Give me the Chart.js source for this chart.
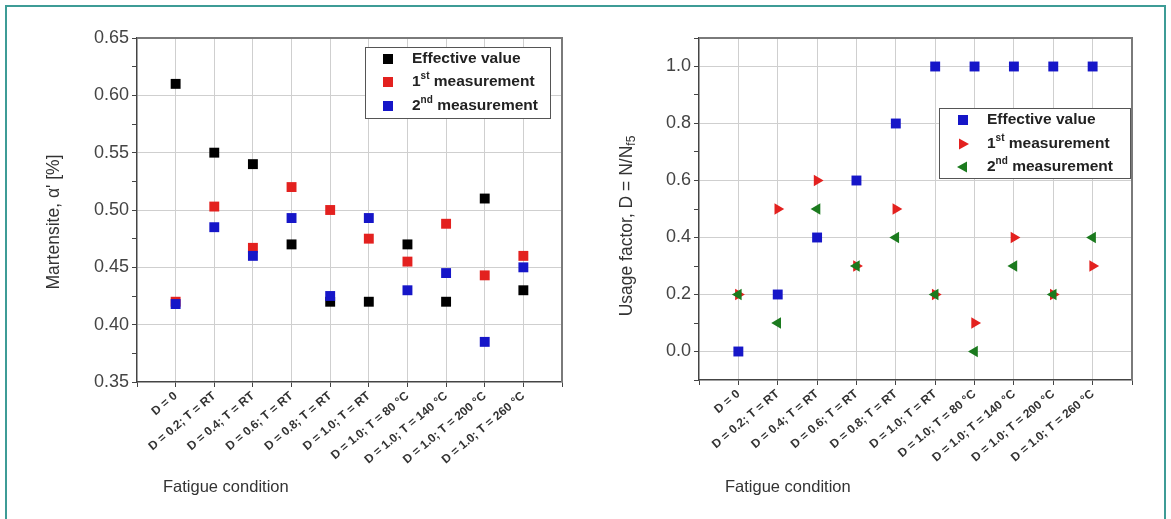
<!DOCTYPE html>
<html>
<head>
<meta charset="utf-8">
<script src="https://cdn.jsdelivr.net/npm/chart.js@4.4.0/dist/chart.umd.min.js"></script>
<style>
  html, body { margin: 0; padding: 0; background: #fff; }
  body { width: 1171px; height: 519px; position: relative; overflow: hidden; }
  .frame { position: absolute; left: 5px; top: 5px; width: 1157px; height: 600px; border: 2px solid #3d9c96; }
  canvas { position: absolute; top: 0; }
  #martensite { left: 0; }
  #usage { left: 585px; }
</style>
</head>
<body>
<div class="frame"></div>
<canvas id="martensite" width="585" height="519"></canvas>
<canvas id="usage" width="586" height="519"></canvas>
<script>
const conditions = [
  'D = 0',
  'D = 0.2; T = RT',
  'D = 0.4; T = RT',
  'D = 0.6; T = RT',
  'D = 0.8; T = RT',
  'D = 1.0; T = RT',
  'D = 1.0; T = 80 °C',
  'D = 1.0; T = 140 °C',
  'D = 1.0; T = 200 °C',
  'D = 1.0; T = 260 °C',
];

// martensite content, %
const martEffective = [0.61, 0.55, 0.54, 0.47, 0.42, 0.42, 0.47, 0.42, 0.51, 0.43];
const martFirst = [0.42, 0.503, 0.467, 0.52, 0.50, 0.475, 0.455, 0.488, 0.443, 0.46];
const martSecond = [0.418, 0.485, 0.46, 0.493, 0.425, 0.493, 0.43, 0.445, 0.385, 0.45];
const martTicks = [0.35, 0.40, 0.45, 0.50, 0.55, 0.60, 0.65];

// usage factor D = N/Nf5
const usageEffective = [0.0, 0.2, 0.4, 0.6, 0.8, 1.0, 1.0, 1.0, 1.0, 1.0];
const usageFirst = [0.2, 0.5, 0.6, 0.3, 0.5, 0.2, 0.1, 0.4, 0.2, 0.3];
const usageSecond = [0.2, 0.1, 0.5, 0.3, 0.4, 0.2, 0.0, 0.3, 0.2, 0.4];
const usageTicks = [0.0, 0.2, 0.4, 0.6, 0.8, 1.0];

const BLACK = '#000000';
const RED = '#e3211f';
const BLUE = '#1616c8';
const GREEN = '#1b7a1e';

const points = values => values.map((v, i) => ({ x: i, y: v }));

const isMajor = (ticks, v) => ticks.some(t => Math.abs(t - v) < 1e-6);

// rich text: list of {text, font, dy}
function richWidth(ctx, parts) {
  let w = 0;
  parts.forEach(p => { ctx.font = p.font; w += ctx.measureText(p.text).width; });
  return w;
}
function drawRich(ctx, parts, x, y) {
  let cx = x;
  parts.forEach(p => {
    ctx.font = p.font;
    ctx.fillText(p.text, cx, y + (p.dy || 0));
    cx += ctx.measureText(p.text).width;
  });
}

function drawMarker(ctx, style, x, y, color) {
  ctx.fillStyle = color;
  ctx.beginPath();
  if (style === 'rect') {
    ctx.rect(x - 5, y - 5, 10, 10);
  } else if (style === 'right') {
    ctx.moveTo(x + 6, y);
    ctx.lineTo(x - 4, y - 5.5);
    ctx.lineTo(x - 4, y + 5.5);
  } else {
    ctx.moveTo(x - 6, y);
    ctx.lineTo(x + 4, y - 5.5);
    ctx.lineTo(x + 4, y + 5.5);
  }
  ctx.closePath();
  ctx.fill();
}

const legendFont = 'bold 15.5px Arial';
const supFont = 'bold 10px Arial';
const legendRows = [
  [{ text: 'Effective value', font: legendFont }],
  [{ text: '1', font: legendFont }, { text: 'st', font: supFont, dy: -6 }, { text: ' measurement', font: legendFont }],
  [{ text: '2', font: legendFont }, { text: 'nd', font: supFont, dy: -6 }, { text: ' measurement', font: legendFont }],
];

// frame, axis titles and legend box
const decor = {
  id: 'decor',
  afterDraw(chart, args, opts) {
    const { ctx, chartArea: a } = chart;
    ctx.save();

    ctx.strokeStyle = '#7a7a7a';
    ctx.lineWidth = 2;
    ctx.beginPath();
    ctx.moveTo(a.left, a.top);
    ctx.lineTo(a.right, a.top);
    ctx.lineTo(a.right, a.bottom);
    ctx.stroke();

    const lg = opts.legend;
    const bx = a.right - lg.inset - lg.width;
    const by = a.top + lg.top;
    ctx.fillStyle = '#fff';
    ctx.fillRect(bx, by, lg.width, lg.height);
    ctx.strokeStyle = '#555';
    ctx.lineWidth = 1;
    ctx.strokeRect(bx + 0.5, by + 0.5, lg.width, lg.height);
    ctx.textBaseline = 'middle';
    legendRows.forEach((row, i) => {
      const y = by + lg.rows[i];
      drawMarker(ctx, lg.styles[i], bx + lg.markerX, y, lg.colors[i]);
      ctx.fillStyle = '#222';
      drawRich(ctx, row, bx + lg.textX, y);
    });

    ctx.fillStyle = '#333';
    ctx.textBaseline = 'middle';
    const w = richWidth(ctx, opts.yTitle);
    ctx.translate(opts.yTitleX, opts.yTitleY);
    ctx.rotate(-Math.PI / 2);
    drawRich(ctx, opts.yTitle, -w / 2, 0);
    ctx.setTransform(1, 0, 0, 1, 0, 0);

    ctx.font = '16.5px Arial';
    ctx.fillText('Fatigue condition', a.left + 26, 487);
    ctx.restore();
  },
};

function makeChart(id, opts) {
  return new Chart(document.getElementById(id), {
    type: 'scatter',
    plugins: [decor],
    data: {
      datasets: opts.series.map((s, i) => ({
        label: s.label,
        data: points(s.values),
        backgroundColor: s.color,
        borderWidth: 0,
        pointStyle: s.style,
        rotation: s.rotation,
        pointRadius: s.radius,
        pointHoverRadius: s.radius,
        order: opts.series.length - i,
      })),
    },
    options: {
      responsive: false,
      animation: false,
      layout: { padding: { top: 38, right: opts.padRight, left: 0, bottom: 0 } },
      plugins: {
        legend: { display: false },
        tooltip: { enabled: false },
        decor: {
          yTitle: opts.yTitle,
          yTitleX: opts.yTitleX,
          yTitleY: opts.yTitleY,
          legend: opts.legend,
        },
      },
      scales: {
        x: {
          type: 'linear',
          min: -1,
          max: 10,
          afterFit: scale => { scale.height = opts.xHeight; },
          border: { color: '#444', width: 1.5 },
          grid: {
            color: c => (c.tick && c.tick.value >= 0 && c.tick.value <= 9 ? '#cfcfcf' : 'rgba(0,0,0,0)'),
            tickColor: '#444',
            tickLength: 5,
          },
          ticks: {
            stepSize: 1,
            autoSkip: false,
            minRotation: 40,
            maxRotation: 40,
            padding: 2,
            color: '#333',
            font: { family: 'Arial', size: 12, weight: 'bold' },
            callback: v => conditions[v] || '',
          },
        },
        y: {
          min: opts.yMin,
          max: opts.yMax,
          afterFit: scale => { scale.width = opts.yWidth; },
          border: { color: '#444', width: 1.5 },
          grid: {
            color: c => (c.tick && isMajor(opts.yTicks, c.tick.value) && c.tick.value > opts.yMin + 1e-6 && c.tick.value < opts.yMax - 1e-6 ? '#cfcfcf' : 'rgba(0,0,0,0)'),
            tickColor: '#444',
            tickLength: 5,
          },
          ticks: {
            stepSize: opts.yStep,
            autoSkip: false,
            padding: 3,
            color: '#444',
            font: { family: 'Arial', size: 18 },
            callback: v => (isMajor(opts.yTicks, v) ? v.toFixed(opts.yDigits) : ''),
          },
        },
      },
    },
  });
}

makeChart('martensite', {
  series: [
    { label: 'Effective value', values: martEffective, color: BLACK, style: 'rect', rotation: 0, radius: 7 },
    { label: '1st measurement', values: martFirst, color: RED, style: 'rect', rotation: 0, radius: 7 },
    { label: '2nd measurement', values: martSecond, color: BLUE, style: 'rect', rotation: 0, radius: 7 },
  ],
  yMin: 0.35,
  yMax: 0.65,
  yStep: 0.025,
  yTicks: martTicks,
  yDigits: 2,
  yWidth: 137,
  xHeight: 137,
  padRight: 23,
  yTitle: [{ text: 'Martensite, α\' [%]', font: '17.5px Arial' }],
  yTitleX: 54,
  yTitleY: 222,
  legend: {
    inset: 12, top: 9, width: 185, height: 71,
    rows: [12, 35, 59], markerX: 23, textX: 47,
    colors: [BLACK, RED, BLUE], styles: ['rect', 'rect', 'rect'],
  },
});

makeChart('usage', {
  series: [
    { label: 'Effective value', values: usageEffective, color: BLUE, style: 'rect', rotation: 0, radius: 7 },
    { label: '1st measurement', values: usageFirst, color: RED, style: 'triangle', rotation: 90, radius: 6.5 },
    { label: '2nd measurement', values: usageSecond, color: GREEN, style: 'triangle', rotation: -90, radius: 6.5 },
  ],
  yMin: -0.1,
  yMax: 1.1,
  yStep: 0.1,
  yTicks: usageTicks,
  yDigits: 1,
  yWidth: 114,
  xHeight: 139,
  padRight: 39,
  yTitle: [
    { text: 'Usage factor, D = N/N', font: '17.5px Arial' },
    { text: 'f5', font: '12px Arial', dy: 5 },
  ],
  yTitleX: 42,
  yTitleY: 226,
  legend: {
    inset: 2, top: 70, width: 191, height: 70,
    rows: [12, 36, 59], markerX: 24, textX: 48,
    colors: [BLUE, RED, GREEN], styles: ['rect', 'right', 'left'],
  },
});
</script>
</body>
</html>
